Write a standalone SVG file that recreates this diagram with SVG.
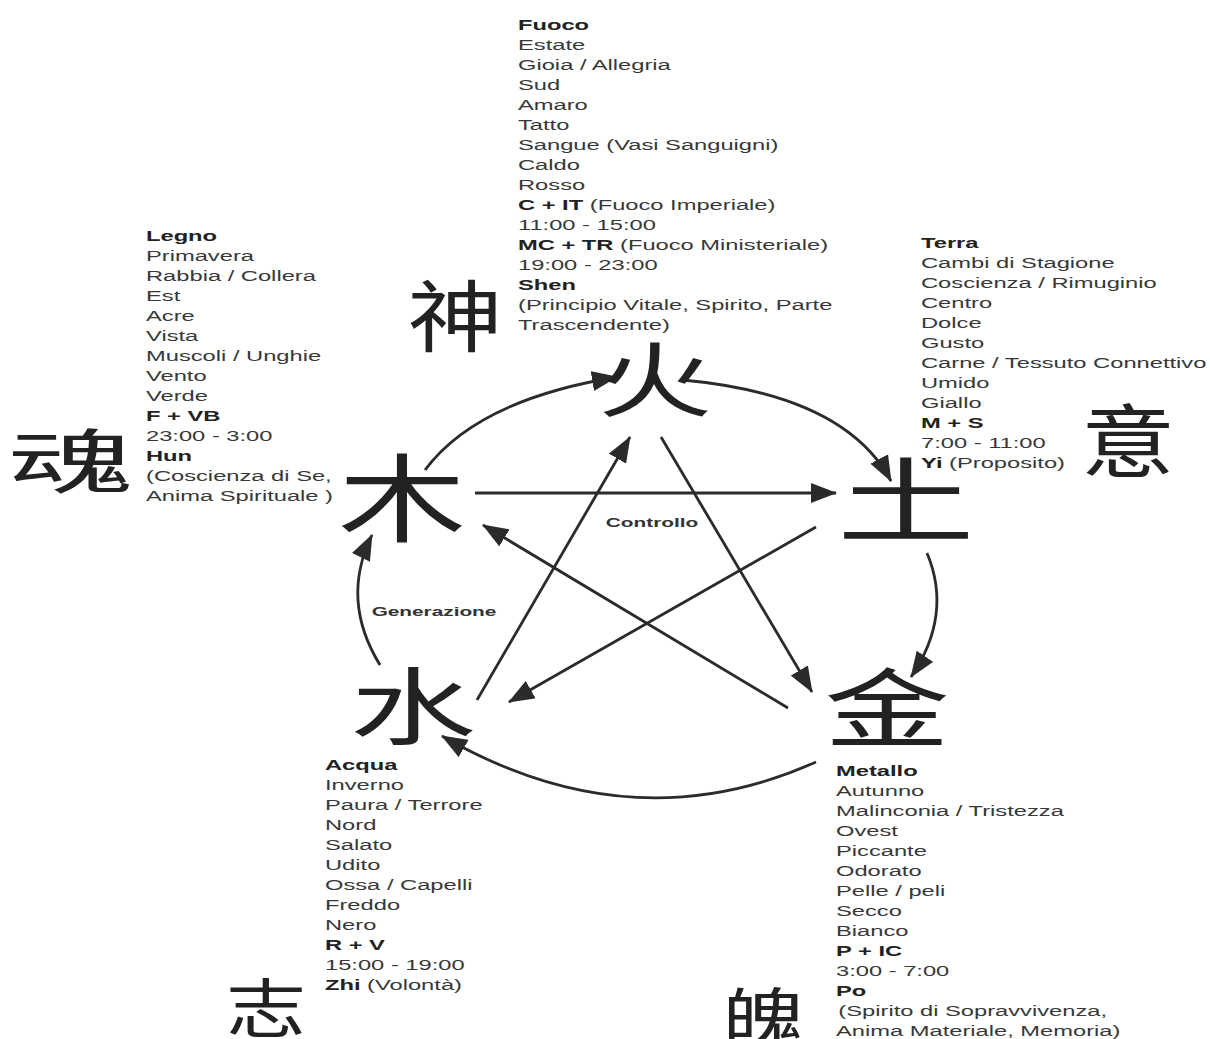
<svg xmlns="http://www.w3.org/2000/svg" width="1210" height="1039" viewBox="0 0 1210 1039">
<style>
.t{font-family:"Liberation Sans",Arial,sans-serif;font-size:15px;fill:#383838}
.b{font-weight:bold;fill:#222}
.lbl{font-family:"Liberation Sans",Arial,sans-serif;font-size:13px;font-weight:bold;fill:#333}
.cjk{font-family:"Noto Sans CJK SC","Noto Sans CJK JP",sans-serif;fill:#222;text-anchor:middle}
.ar{fill:none;stroke:#2b2b2b;stroke-width:2.8;marker-end:url(#ah)}
</style>
<defs>
<marker id="ah" viewBox="0 0 26 20" refX="25" refY="10" markerWidth="26" markerHeight="20" orient="auto" markerUnits="userSpaceOnUse">
<path d="M0,0 L26,10 L0,20 z" fill="#2b2b2b"/>
</marker>
</defs>
<rect width="1210" height="1039" fill="#fff"/>

<g id="connectors">
<path class="ar" d="M425,470 Q477,400 617,377"/>
<path class="ar" d="M683,380 Q845,395 891,481"/>
<path class="ar" d="M927,553 Q953,615 911,677"/>
<path class="ar" d="M816,762 Q631,845 442,736"/>
<path class="ar" d="M380,665 Q340,600 372,535"/>
<path class="ar" d="M475,493 L836,493"/>
<path class="ar" d="M477,700 L630,437"/>
<path class="ar" d="M661,437 L812,692"/>
<path class="ar" d="M816,527 L509,702"/>
<path class="ar" d="M788,708 L483,525"/>
</g>

<g id="label-controllo" transform="translate(652 527) scale(1.6 1)"><text class="lbl" x="0" y="0" text-anchor="middle">Controllo</text></g>
<g id="label-generazione" transform="translate(434 616) scale(1.6 1)"><text class="lbl" x="0" y="0" text-anchor="middle">Generazione</text></g>

<g id="node-fuoco">
<g transform="translate(655 379) scale(1.4 1)"><text class="cjk" x="0" y="31" font-size="82">火</text></g>
<g transform="translate(455 316) scale(1.22 1)"><text class="cjk" x="0" y="30" font-size="78">神</text></g>
<g transform="translate(518 0) scale(1.58 1)"><text class="t" x="0" y="30"><tspan class="b">Fuoco</tspan><tspan x="0" dy="20">Estate</tspan><tspan x="0" dy="20">Gioia / Allegria</tspan><tspan x="0" dy="20">Sud</tspan><tspan x="0" dy="20">Amaro</tspan><tspan x="0" dy="20">Tatto</tspan><tspan x="0" dy="20">Sangue (Vasi Sanguigni)</tspan><tspan x="0" dy="20">Caldo</tspan><tspan x="0" dy="20">Rosso</tspan><tspan x="0" dy="20"><tspan class="b">C + IT</tspan> (Fuoco Imperiale)</tspan><tspan x="0" dy="20">11:00 - 15:00</tspan><tspan x="0" dy="20"><tspan class="b">MC + TR</tspan> (Fuoco Ministeriale)</tspan><tspan x="0" dy="20">19:00 - 23:00</tspan><tspan x="0" dy="20" class="b">Shen</tspan><tspan x="0" dy="20">(Principio Vitale, Spirito, Parte</tspan><tspan x="0" dy="20">Trascendente)</tspan></text></g>
</g>

<g id="node-legno">
<g transform="translate(402 498) scale(1.33 1)"><text class="cjk" x="0" y="36" font-size="96">木</text></g>
<g transform="translate(71 461) scale(1.8 1)"><text class="cjk" x="0" y="27" font-size="70">魂</text></g>
<g transform="translate(146 0) scale(1.58 1)"><text class="t" x="0" y="241"><tspan class="b">Legno</tspan><tspan x="0" dy="20">Primavera</tspan><tspan x="0" dy="20">Rabbia / Collera</tspan><tspan x="0" dy="20">Est</tspan><tspan x="0" dy="20">Acre</tspan><tspan x="0" dy="20">Vista</tspan><tspan x="0" dy="20">Muscoli / Unghie</tspan><tspan x="0" dy="20">Vento</tspan><tspan x="0" dy="20">Verde</tspan><tspan x="0" dy="20" class="b">F + VB</tspan><tspan x="0" dy="20">23:00 - 3:00</tspan><tspan x="0" dy="20" class="b">Hun</tspan><tspan x="0" dy="20">(Coscienza di Se,</tspan><tspan x="0" dy="20">Anima Spirituale )</tspan></text></g>
</g>

<g id="node-terra">
<g transform="translate(906 500) scale(1.5 1)"><text class="cjk" x="0" y="35" font-size="92">土</text></g>
<g transform="translate(1128 441) scale(1.18 1)"><text class="cjk" x="0" y="30" font-size="80">意</text></g>
<g transform="translate(921 0) scale(1.58 1)"><text class="t" x="0" y="248"><tspan class="b">Terra</tspan><tspan x="0" dy="20">Cambi di Stagione</tspan><tspan x="0" dy="20">Coscienza / Rimuginio</tspan><tspan x="0" dy="20">Centro</tspan><tspan x="0" dy="20">Dolce</tspan><tspan x="0" dy="20">Gusto</tspan><tspan x="0" dy="20">Carne / Tessuto Connettivo</tspan><tspan x="0" dy="20">Umido</tspan><tspan x="0" dy="20">Giallo</tspan><tspan x="0" dy="20" class="b">M + S</tspan><tspan x="0" dy="20">7:00 - 11:00</tspan><tspan x="0" dy="20"><tspan class="b">Yi</tspan> (Proposito)</tspan></text></g>
</g>

<g id="node-metallo">
<g transform="translate(887 708) scale(1.46 1)"><text class="cjk" x="0" y="33" font-size="86">金</text></g>
<g transform="translate(764 1018) scale(1.25 1)"><text class="cjk" x="0" y="25" font-size="66">魄</text></g>
<g transform="translate(836 0) scale(1.58 1)"><text class="t" x="0" y="776"><tspan class="b">Metallo</tspan><tspan x="0" dy="20">Autunno</tspan><tspan x="0" dy="20">Malinconia / Tristezza</tspan><tspan x="0" dy="20">Ovest</tspan><tspan x="0" dy="20">Piccante</tspan><tspan x="0" dy="20">Odorato</tspan><tspan x="0" dy="20">Pelle / peli</tspan><tspan x="0" dy="20">Secco</tspan><tspan x="0" dy="20">Bianco</tspan><tspan x="0" dy="20" class="b">P + IC</tspan><tspan x="0" dy="20">3:00 - 7:00</tspan><tspan x="0" dy="20" class="b">Po</tspan><tspan x="1.5" dy="20">(Spirito di Sopravvivenza,</tspan><tspan x="0" dy="20">Anima Materiale, Memoria)</tspan></text></g>
</g>

<g id="node-acqua">
<g transform="translate(413 706) scale(1.5 1)"><text class="cjk" x="0" y="32" font-size="84">水</text></g>
<g transform="translate(266 1008) scale(1.25 1)"><text class="cjk" x="0" y="24" font-size="64">志</text></g>
<g transform="translate(325 0) scale(1.58 1)"><text class="t" x="0" y="770"><tspan class="b">Acqua</tspan><tspan x="0" dy="20">Inverno</tspan><tspan x="0" dy="20">Paura / Terrore</tspan><tspan x="0" dy="20">Nord</tspan><tspan x="0" dy="20">Salato</tspan><tspan x="0" dy="20">Udito</tspan><tspan x="0" dy="20">Ossa / Capelli</tspan><tspan x="0" dy="20">Freddo</tspan><tspan x="0" dy="20">Nero</tspan><tspan x="0" dy="20" class="b">R + V</tspan><tspan x="0" dy="20">15:00 - 19:00</tspan><tspan x="0" dy="20"><tspan class="b">Zhi</tspan> (Volontà)</tspan></text></g>
</g>
</svg>
